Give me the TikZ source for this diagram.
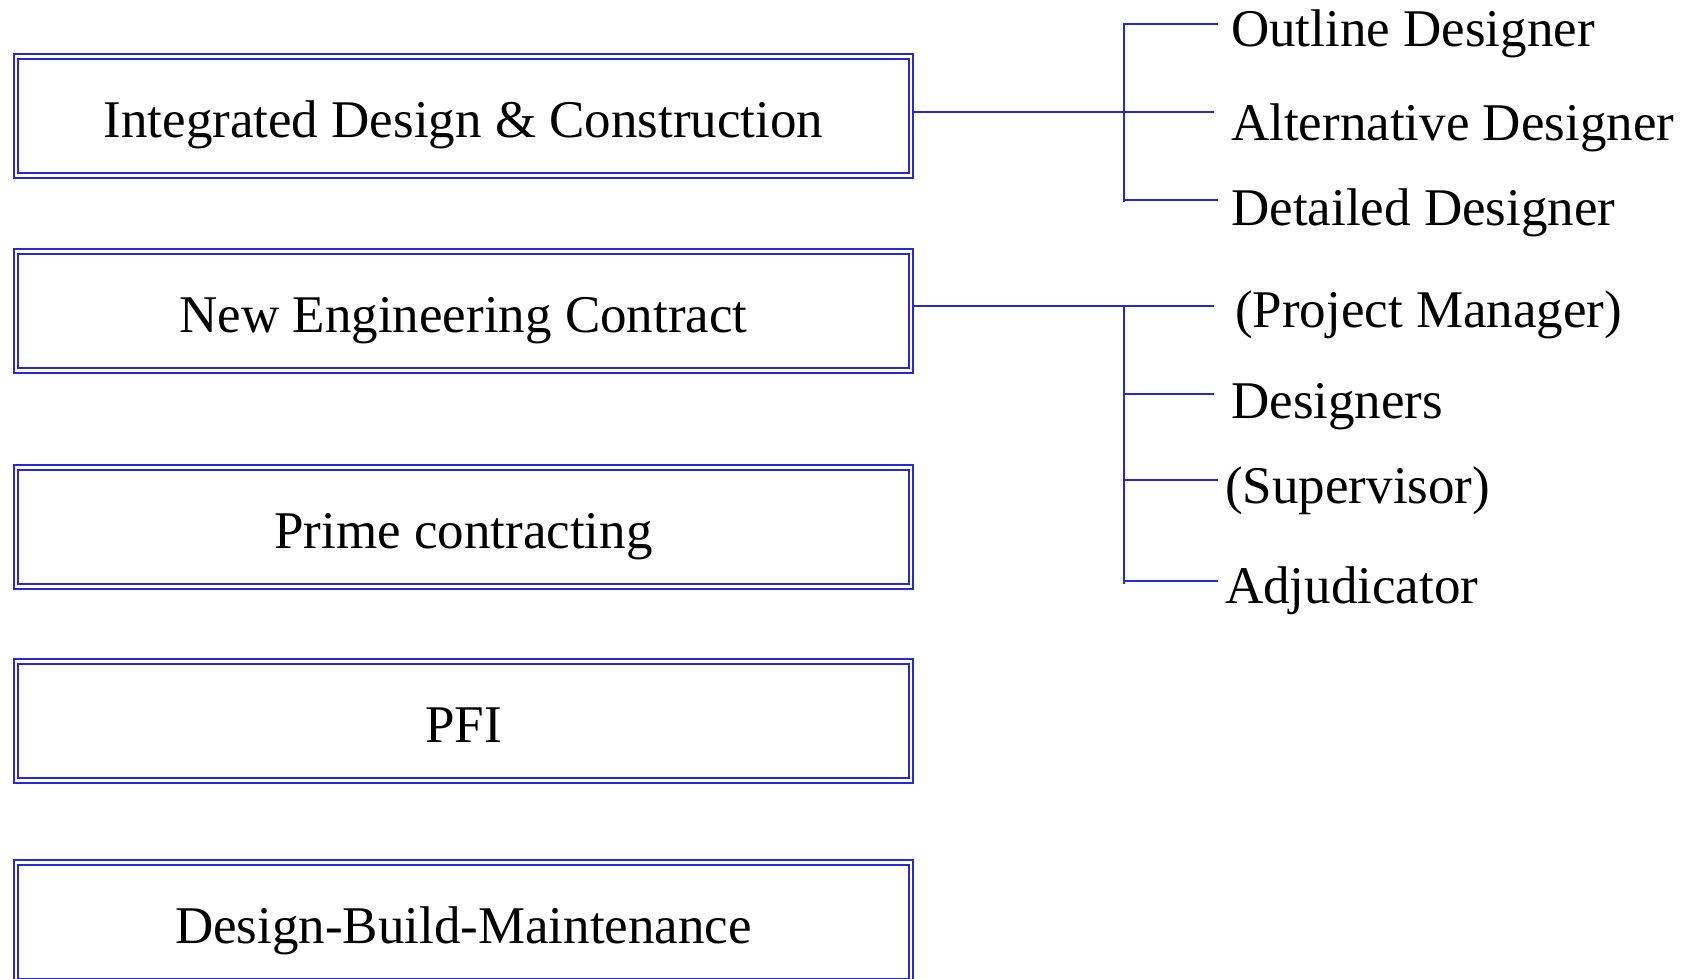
\documentclass[tikz,border=0pt]{standalone}
\usepackage{fontspec}
\setmainfont{Liberation Serif}
\definecolor{lineblue}{RGB}{40,40,215}
\begin{document}
\begin{tikzpicture}[x=1pt,y=-1pt,
  dbox/.style={draw=lineblue, line width=1.7pt, double=white, double distance=2.8pt,
    minimum width=895pt, minimum height=119pt, inner sep=0pt, outer sep=3pt,
    text height=50pt, text depth=8pt, font=\fontsize{53}{60}\selectfont},
  lbl/.style={anchor=base west, inner sep=0pt, font=\fontsize{53}{60}\selectfont},
  conn/.style={draw=lineblue, line width=1.7pt}]
\useasboundingbox (0,0) rectangle (1686,978);
\node[dbox] (b1) at (463.5,116) {Integrated Design \& Construction};
\node[dbox] (b2) at (463.5,311) {New Engineering Contract};
\node[dbox] (b3) at (463.5,527) {Prime contracting};
\node[dbox] (b4) at (463.5,721) {PFI};
\node[dbox] (b5) at (463.5,922) {Design-Build-Maintenance};

% labels
\node[lbl] (l1) at (1231,46) {Outline Designer};
\node[lbl] (l2) at (1231,140) {Alternative Designer};
\node[lbl] (l3) at (1231,225) {Detailed Designer};
\node[lbl] (l4) at (1235,327) {(Project Manager)};
\node[lbl] (l5) at (1231,418) {Designers};
\node[lbl] (l6) at (1225,503) {(Supervisor)};
\node[lbl] (l7) at (1225,603) {Adjudicator};

% tree 1
\coordinate (j1) at (1124,112);
\coordinate (t1a) at (1124,24);
\coordinate (t1b) at (1124,202);
\coordinate (e1) at (1218,24);
\coordinate (e2) at (1214,112);
\coordinate (e3) at (1218,200);
\draw[conn] (b1.east |- j1) -- (j1) -- (e2);
\draw[conn] (t1b) -- (t1a) -- (e1);
\draw[conn] (j1 |- e3) -- (e3);

% tree 2
\coordinate (j2) at (1124,306);
\coordinate (t2b) at (1124,584);
\coordinate (f1) at (1214,306);
\coordinate (f2) at (1214,394);
\coordinate (f3) at (1218,480);
\coordinate (f4) at (1218,581);
\draw[conn] (b2.east |- j2) -- (j2) -- (f1);
\draw[conn] (j2) -- (t2b);
\draw[conn] (j2 |- f2) -- (f2);
\draw[conn] (j2 |- f3) -- (f3);
\draw[conn] (j2 |- f4) -- (f4);
\end{tikzpicture}
\end{document}
